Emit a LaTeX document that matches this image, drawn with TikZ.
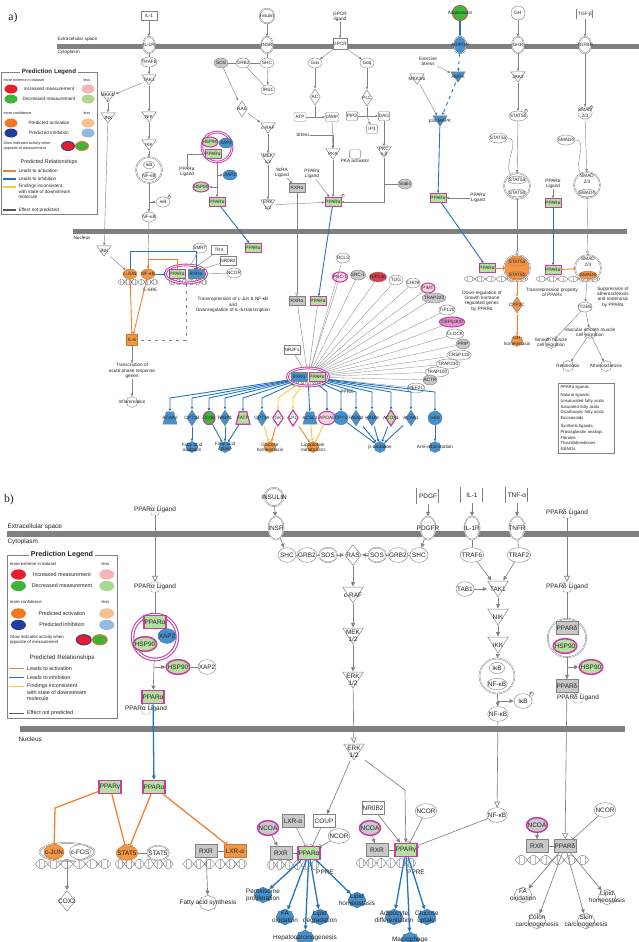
\documentclass[tikz,border=0pt]{standalone}
\usepackage{fontspec}
\setmainfont{Liberation Sans}
\newfontfamily\panelfont{Liberation Serif}
\usetikzlibrary{shapes.geometric,shapes.symbols,arrows.meta,calc}

\definecolor{linec}{RGB}{130,130,130}
\definecolor{txtc}{RGB}{35,35,35}
\definecolor{barc}{RGB}{128,128,128}
\definecolor{grn}{RGB}{182,224,160}
\definecolor{dgrn}{RGB}{60,185,60}
\definecolor{mag}{RGB}{200,60,165}
\definecolor{blu}{RGB}{70,145,205}
\definecolor{ora}{RGB}{242,150,70}
\definecolor{gry}{RGB}{200,200,200}
\definecolor{red1}{RGB}{225,60,80}
\definecolor{pnk}{RGB}{246,210,228}
\definecolor{arrblue}{RGB}{35,115,195}
\definecolor{arrora}{RGB}{242,128,45}
\definecolor{arryel}{RGB}{245,205,50}
\definecolor{navy}{RGB}{35,60,160}
\definecolor{lgred}{RGB}{232,30,40}
\definecolor{lgpink}{RGB}{246,180,185}
\definecolor{lggreen}{RGB}{60,180,60}
\definecolor{lglgreen}{RGB}{172,216,148}
\definecolor{lgorange}{RGB}{240,120,30}
\definecolor{lglorange}{RGB}{246,192,145}
\definecolor{lglblue}{RGB}{150,185,228}

% node and line sizes of the upper panel (the lower one resets them)
\def\molW{4.2mm}\def\molH{3mm}\def\molXs{-1.5pt}
\def\recW{3.6mm}\def\recH{5mm}\def\recXs{-4pt}
\def\boxW{4.8mm}\def\boxH{2.7mm}
\def\kinW{4.5mm}\def\kinH{3.3mm}
\def\diaW{3.4mm}\def\diaH{5mm}
\def\trpW{4.5mm}\def\trpH{4mm}
\def\fnW{3.6mm}\def\fnH{3.3mm}
\def\glowW{.9pt}\def\ppW{.7pt}
\def\lnW{.35pt}\def\lnB{.75pt}
\def\tipL{2.2pt}\def\tipW{2pt}\def\otipL{3pt}\def\otipW{3pt}\def\barW{3pt}
\def\phosFont{\fontsize{2.5}{2.5}\selectfont}

\tikzset{
  every node/.style={inner sep=.3pt, align=center, text=txtc},
  mol/.style={ellipse, draw=linec, line width=.35pt, fill=#1, minimum width=\molW,
    minimum height=\molH, inner xsep=\molXs, inner ysep=0pt},
  mol/.default=white,
  glow/.style={ellipse, draw=mag, line width=\glowW, fill=#1, minimum width=\molW,
    minimum height=\molH, inner xsep=\molXs, inner ysep=0pt},
  glow/.default=grn,
  rec/.style={ellipse, draw=linec, line width=.35pt, double=white, double distance=.4pt,
    fill=#1, minimum width=\recW, minimum height=\recH, inner xsep=\recXs, inner ysep=0pt},
  rec/.default=white,
  box/.style={rectangle, draw=linec, line width=.35pt, fill=#1, minimum width=\boxW,
    minimum height=\boxH, inner xsep=.4pt},
  box/.default=white,
  ppar/.style={rectangle, draw=mag, line width=\ppW, fill=#1, minimum width=\boxW,
    minimum height=\boxH, inner xsep=.4pt},
  ppar/.default=grn,
  cplx/.style={circle, draw=linec, line width=.35pt, double=white, double distance=.5pt,
    minimum size=#1, inner sep=0pt},
  kin/.style={rectangle, minimum width=\kinW, minimum height=\kinH, inner sep=0pt,
    path picture={\filldraw[draw=linec, line width=.4pt, fill=#1]
      ([shift={(-\kinW/2+.3pt,\kinH/2-.3pt)}]path picture bounding box.center) --
      ([shift={(\kinW/2-.3pt,\kinH/2-.3pt)}]path picture bounding box.center) --
      ([yshift=-\kinH/2+.3pt]path picture bounding box.center) -- cycle;}},
  kin/.default=white,
  diash/.style 2 args={rectangle, minimum width=\diaW, minimum height=\diaH, inner sep=0pt,
    path picture={\filldraw[#2, fill=#1]
      ([yshift=\diaH/2-.4pt]path picture bounding box.center) --
      ([xshift=\diaW/2-.4pt]path picture bounding box.center) --
      ([yshift=-\diaH/2+.4pt]path picture bounding box.center) --
      ([xshift=-\diaW/2+.4pt]path picture bounding box.center) -- cycle;}},
  dia/.style={diash={#1}{draw=linec, line width=.4pt}},
  dia/.default=white,
  diag/.style={diash={#1}{draw=mag, line width=1pt}},
  trpsh/.style 2 args={rectangle, minimum width=\trpW, minimum height=\trpH, inner sep=0pt,
    path picture={\filldraw[#2, fill=#1]
      ([shift={(-\trpW/4,\trpH/2-.4pt)}]path picture bounding box.center) --
      ([shift={(\trpW/4,\trpH/2-.4pt)}]path picture bounding box.center) --
      ([shift={(\trpW/2-.4pt,-\trpH/2+.4pt)}]path picture bounding box.center) --
      ([shift={(-\trpW/2+.4pt,-\trpH/2+.4pt)}]path picture bounding box.center) -- cycle;}},
  trp/.style={trpsh={#1}{draw=linec, line width=.4pt}},
  trpg/.style={trpsh={#1}{draw=mag, line width=1pt}},
  fn/.style={cloud, cloud puffs=8, cloud puff arc=120, aspect=1.1, draw=linec,
    line width=.35pt, fill=#1, minimum width=\fnW, minimum height=\fnH, inner sep=0pt},
  fn/.default=white,
  phos/.style={label={[circle, draw=linec, line width=.3pt, inner sep=.2pt,
    font=\phosFont]north east:P}},
  ligsq/.style={draw=linec, line width=.35pt, rounded corners=1pt, minimum width=2.4mm,
    minimum height=3mm, inner sep=0pt},
  lgdot/.style={ellipse, fill=#1, minimum width=3.9mm, minimum height=2.7mm, inner sep=0pt},
  % connectors
  ga/.style={draw=linec, line width=\lnW, -{Triangle[length=\tipL, width=\tipW]}},
  gn/.style={draw=linec, line width=\lnW},
  go/.style={draw=linec, line width=\lnW, -{Triangle[open, length=\otipL, width=\otipW]}},
  gb/.style={draw=linec, line width=\lnW, -{Bar[width=\barW]}},
  ba/.style={draw=arrblue, line width=\lnB, -{Triangle[length=\tipL, width=\tipW]}},
  bb/.style={draw=arrblue, line width=\lnB, -{Bar[width=\barW]}},
  oa/.style={draw=arrora, line width=\lnB, -{Triangle[length=\tipL, width=\tipW]}},
  ob/.style={draw=arrora, line width=\lnB, -{Bar[width=\barW]}},
  ol/.style={draw=arrora, line width=\lnB},
  ya/.style={draw=arryel, line width=\lnB, -{Triangle[length=\tipL, width=\tipW]}},
  dna/.pic={
    \foreach \k in {-18,-15,...,18}
      \draw[linec!55, line width=.25pt] (\k,{3*sin(\k*27)}) -- (\k,{-3*sin(\k*27)});
    \draw[linec, line width=.35pt, domain=-20:20, samples=41, smooth]
      plot (\x,{3*sin(\x*27)}) plot (\x,{-3*sin(\x*27)});
  }
}

% colour key, drawn in a 96 x 142 box
\newcommand\predlegend[1]{%
  \draw[linec, line width=.4pt] (0,0) rectangle (96,142);
  \node[fill=white, inner xsep=1.5pt, font=\bfseries\fontsize{5.3}{6}\selectfont] (#1ttl) at (48,0) {Prediction Legend};
  \node[anchor=west, font=\fontsize{3.2}{3.6}\selectfont] (#1ext) at (2,8) {more extreme in dataset};
  \node[font=\fontsize{3.2}{3.6}\selectfont] (#1lsa) at (86,8) {less};
  \node[lgdot=lgred] (#1red) at (10,17) {};
  \node[font=\fontsize{4}{4.5}\selectfont] (#1redt) at (48,17) {Increased measurement};
  \node[lgdot=lgpink] (#1pnk) at (87,17) {};
  \node[lgdot=lggreen] (#1grn) at (10,27) {};
  \node[font=\fontsize{4}{4.5}\selectfont] (#1grnt) at (48,27) {Decreased measurement};
  \node[lgdot=lglgreen] (#1lgn) at (87,27) {};
  \node[anchor=west, font=\fontsize{3.2}{3.6}\selectfont] (#1conf) at (2,41) {more confidence};
  \node[font=\fontsize{3.2}{3.6}\selectfont] (#1lsb) at (86,41) {less};
  \node[lgdot=lgorange] (#1ora) at (10,51) {};
  \node[font=\fontsize{4}{4.5}\selectfont] (#1orat) at (48,51) {Predicted activation};
  \node[lgdot=lglorange] (#1lor) at (87,51) {};
  \node[lgdot=navy] (#1blu) at (10,61) {};
  \node[font=\fontsize{4}{4.5}\selectfont] (#1blut) at (48,61) {Predicted inhibition};
  \node[lgdot=lglblue] (#1lbl) at (87,61) {};
  \node[anchor=west, align=left, font=\fontsize{3.2}{3.8}\selectfont] (#1glw) at (2,74) {Glow indicates activity when\\opposite of measurement};
  \node[lgdot=lgred, draw=navy, line width=.8pt] (#1gl1) at (67,74) {};
  \node[lgdot=lggreen, draw=lgorange, line width=.8pt] (#1gl2) at (81,74) {};
  \node[font=\fontsize{4.6}{5}\selectfont] (#1rel) at (48,90) {Predicted Relationships};
  \draw[arrora, line width=.9pt] (2,99) -- (15,99);
  \node[anchor=west, font=\fontsize{4}{4.5}\selectfont] (#1act) at (17,99) {Leads to activation};
  \draw[arrblue, line width=.9pt] (2,107) -- (15,107);
  \node[anchor=west, font=\fontsize{4}{4.5}\selectfont] (#1inh) at (17,107) {Leads to inhibition};
  \draw[arryel, line width=.9pt] (2,115) -- (15,115);
  \node[anchor=north west, align=left, font=\fontsize{4}{4.6}\selectfont] (#1fnd) at (17,112) {Findings inconsistent\\with state of downstream\\molecule};
  \draw[linec!70!black, line width=.9pt] (2,138) -- (15,138);
  \node[anchor=west, font=\fontsize{4}{4.5}\selectfont] (#1np) at (17,138) {Effect not predicted};
}

\begin{document}
\begin{tikzpicture}[x=0.3mm, y=-0.3mm]
\useasboundingbox (0,0) rectangle (639,942);
\fill[white] (0,0) rectangle (639,942);

%%%%%%%%%%%%%%%%%%%%%%%% panel a %%%%%%%%%%%%%%%%%%%%%%%%
\begin{scope}[every node/.append style={font=\fontsize{4}{4.5}\selectfont}]
\node[font=\panelfont\fontsize{10}{11}\selectfont] (tagA) at (13,18) {a)};
\fill[barc] (57,43.5) rectangle (639,48.5);
\fill[barc] (73,229) rectangle (627,233.5);
\node[anchor=south west] (ecsA) at (57,42.5) {Extracellular space};
\node[anchor=north west] (cytA) at (57,50) {Cytoplasm};
\node[anchor=north west] (nucA) at (73,236) {Nucleus};

% IL-1 / NF-kB
\node[box] (il1a) at (149,16) {IL-1};
\node[rec] (il1ra) at (149,45) {IL-1R};
\node[mol] (traf6a) at (149,62) {TRAF6};
\node[kin] (tak1a) at (149,80) {TAK1};
\node[kin] (mkk47a) at (108,97) {MKK4/\\7};
\node[kin] (jnka) at (108,118) {JNK};
\node[kin] (nika) at (149,117) {NIK};
\node[kin] (ikka) at (149,145) {IKK};
\node[cplx=7.8mm] (nfcA) at (149,170) {};
\node[mol, minimum width=3.4mm, minimum height=2.3mm] (ikbA1) at (149,165) {IκB};
\node[mol, minimum width=3.4mm, minimum height=2.3mm] (nfkA1) at (149,176) {NF-κB};
\node[mol, phos] (ikbA2) at (163,202) {IκB};
\node[mol] (nfkA2) at (149,217) {NF-κB};
\node[kin] (jnkA2) at (104,251) {JNK};
\pic at (138,282) {dna};
\pic[xscale=.95] at (188,282) {dna};
\node[mol=ora, draw=ora!80!black] (cjunA) at (130,274) {c-JUN};
\node[mol=ora, draw=ora!80!black] (nfkA3) at (148,274) {NF-κB};
\node (il6reA) at (150,290) {IL-6RE};
\node[ellipse, draw=mag, line width=.8pt, double=white, double distance=.7pt,
  minimum width=12.5mm, minimum height=5.4mm] (prA) at (186,274) {};
\node[ppar] (ppA1) at (177,274) {PPARα};
\node[box=blu] (rxA1) at (196,274) {RXRα};
\node[mol] (smrtA) at (200,248) {SMRT};
\node[box] (tr4A) at (219,250) {TR4};
\node[box] (nr0b2A) at (228,261) {NR0B2};
\node[mol] (ncorA) at (234,273) {NCOR};
\node (trtxA) at (233,305) {Transrepression of c-Jun \& NF-κB\\and\\Downregulation of IL-6 transcription};
\node[box=ora, draw=ora!80!black, minimum size=3.3mm] (il6A) at (132,340) {IL-6};
\node (acuteA) at (132,371) {Transcription of\\acute phase response\\genes};
\node[fn, label={center:Inflammation}] (inflA) at (132,402) {};

\draw[ga] (il1a) -- (il1ra);
\draw[gn] (il1ra) -- (traf6a);
\draw[ga] (traf6a) -- (tak1a);
\draw[ga] (tak1a) -- (mkk47a);
\draw[ga] (tak1a) -- (nika);
\draw[ga] (mkk47a) -- (jnka);
\draw[ga] (nika) -- (ikka);
\draw[ga] (ikka) -- (nfcA);
\draw[ga] (nfcA) -- (nfkA2);
\draw[ga] (nfcA.south |- ikbA2) -- (ikbA2);
\draw[ga] (nfkA2) -- (nfkA3);
\draw[ga] (jnka) -- (jnkA2);
\draw[ga] (jnkA2) -- (cjunA);
\draw[bb] (cjunA.north) -- ++(0,-17) -| (rxA1.north);
\draw[ol] (nfkA3.north) -- ++(0,-9) -| (ppA1.north);
\draw[bb] (nfkA3) -- (prA);
\draw[oa] (cjunA) -- (il6A);
\draw[oa] (nfkA3) -- (il6A);
\draw[gn, dashed] (prA.south) |- (il6A);
\draw[gn] (smrtA) -- (prA);
\draw[gn] (tr4A) -- (prA);
\draw[gn] (nr0b2A) -- (prA);
\draw[gn] (ncorA) -- (prA);
\draw[ga] (il6A) -- (acuteA);
\draw[ga] (acuteA) -- (inflA);

% insulin / MAPK
\node[circle, draw=linec, double=white, double distance=.4pt, minimum size=4.4mm,
  inner sep=0pt, label={center:Insulin}] (insA) at (267,16) {};
\node[rec] (insrA) at (267,45) {INSR};
\node[mol=gry] (sosA) at (221,63) {SOS};
\node[mol] (grbA) at (243,63) {GRB2};
\node[mol] (shcA) at (267,63) {SHC};
\node[mol] (irsA) at (268,90) {IRS1};
\node[dia] (rasA) at (242,109) {RAS};
\node[kin] (crafA) at (268,128) {c-RAF};
\node[kin] (mekA) at (268,159) {MEK\\1/2};
\node[kin] (erkA) at (268,205) {ERK\\1/2};

% PPARa / HSP90 / XAP2
\node[circle, draw=mag, line width=.8pt, double=white, double distance=.7pt,
  minimum size=9mm] (hcA) at (217,147) {};
\node[mol=blu, draw=blu!80!black] (xapA1) at (226,143) {XAP2};
\node[glow] (hspA1) at (210,142) {HSP90};
\node[ppar] (ppA2) at (213,154) {PPARα};
\node (ligA1) at (187,172) {PPARα\\Ligand};
\node[mol=blu, draw=blu!80!black] (xapA2) at (230,175) {XAP2};
\node[glow] (hspA2) at (201,187) {HSP90};
\node[ppar] (ppA3) at (217,202) {PPARα};
\node[ppar] (ppA4) at (253,248) {PPARα};

% RXR and GPCR branch
\node (ligA2) at (282,173) {9cRA\\Ligand};
\node[box=gry] (rxA2) at (297,188) {RXRα};
\node[box=gry] (rxA3) at (297,301) {RXRα};
\node (gpcrlA) at (340,17) {GPCR\\ligand};
\node[box, minimum width=3.4mm, minimum height=3.4mm] (gpcrA) at (340,44) {GPCR};
\node[mol] (gasA) at (315,63) {Gαs};
\node[mol] (gaqA) at (367,63) {Gαq};
\node[dia] (acA) at (315,97) {AC};
\node[box, rounded corners=1pt, minimum width=3.6mm] (atpA) at (300,117) {ATP};
\node[box, rounded corners=1pt, minimum width=3.6mm] (campA) at (332,117) {cAMP};
\node[dia] (plcA) at (367,98) {PLC};
\node[box, rounded corners=1pt, minimum width=3.4mm] (pip2A) at (352,116) {PIP2};
\node[box, rounded corners=1pt, minimum width=3.4mm] (dagA) at (384,116) {DAG};
\node[box, rounded corners=1pt, minimum width=3.2mm] (ip3A) at (372,129) {IP3};
\node (strA) at (303,135) {Stress};
\node[kin] (pkaA) at (333,154) {PKA};
\node[box, rounded corners=1pt, minimum width=3.2mm, label={below:PKA activator}] (pkactA) at (355,154) {};
\node[kin] (pkcA) at (384,152) {PKC\\α,β};
\node[mol=gry] (sodA) at (405,184) {Sodis};
\node (ligA3) at (312,174) {PPARα\\Ligand};
\node[ppar, phos] (ppA5) at (333,202) {PPARα};
\node[ppar] (ppA6) at (318,301) {PPARα};

\draw[ga] (insA) -- (insrA);
\draw[gn] (insrA) -- (shcA);
\draw[gn] (sosA) -- (grbA);
\draw[gn] (grbA) -- (shcA);
\draw[ga] (shcA) -- (irsA);
\draw[gn] (grbA) -- (irsA);
\draw[ga] (sosA) -- (rasA);
\draw[ga] (rasA) -- (crafA);
\draw[ga] (crafA) -- (mekA);
\draw[ga] (mekA) -- (erkA);
\draw[ga] (erkA) -- (ppA5);
\draw[ga] (ligA1) |- (ppA2);
\draw[ga] (hcA) -- (ppA3);
\draw[ga] (hcA.south |- xapA2) -- (xapA2);
\draw[ga] (hcA.south |- hspA2) -- (hspA2);
\draw[ba] (ppA3) -- (ppA4);
\draw[ga] (ligA2) -- (rxA2);
\draw[go] (rxA2) -- (rxA3);
\draw[ga] (gpcrlA) -- (gpcrA);
\draw[ga] (gpcrA) -- (gasA);
\draw[ga] (gpcrA) -- (gaqA);
\draw[ga] (gasA) -- (acA);
\draw[gn] (acA) -- (acA |- atpA);
\draw[ga] (atpA) -- (campA);
\draw[ga] (gaqA) -- (plcA);
\draw[gn] (plcA) -- (plcA |- pip2A);
\draw[ga] (pip2A) -- (dagA);
\draw[ga] (plcA |- pip2A) -- (ip3A);
\draw[ga] (campA) -- (pkaA);
\draw[ga] (strA) -| (pkaA);
\draw[ga] (dagA) -- (pkcA);
\draw[ga] (pkaA) -- (ppA5);
\draw[ga] (pkcA) |- (ppA5);
\draw[gb] (sodA) -- (pkcA |- sodA);
\draw[ga] (ligA3) -- (ppA5);
\draw[ba] (ppA5) -- (ppA6);

% adiponectin / AMPK
\node[circle, draw=red1, line width=.6pt, fill=dgrn, minimum size=4.6mm, inner sep=0pt,
  label={center:Adiponectin}] (adipA) at (460,13) {};
\node[rec=blu, draw=blu!70!black] (adiprA) at (460,45) {ADIPOR};
\node (exA) at (428,61) {Exercise\\Stress};
\node[kin=blu] (ampkA) at (458,77) {AMPK};
\node[kin] (mkk36A) at (417,79) {MKK3/6};
\node[kin=blu] (p38A) at (440,121) {p38 MAPK};
\node[ppar] (ppA7) at (438,198) {PPARα};
\node (ligA4) at (478,198) {PPARα\\Ligand};
\node[ppar] (ppA8) at (487,268) {PPARα};
\draw[ba, line width=1pt] (adipA) -- (adiprA);
\draw[ba, dashed] (adiprA) -- (ampkA);
\draw[ga] (exA) -- (ampkA);
\draw[ba, dashed] (ampkA) -- (p38A);
\draw[ga] (mkk36A) -- (p38A);
\draw[ba] (p38A) -- (ppA7);
\draw[ga] (ligA4) -- (ppA7);
\draw[ba] (ppA7) -- (ppA8);

% GH / STAT5
\node[circle, draw=linec, line width=.35pt, minimum size=4.2mm, inner sep=0pt] (ghA) at (518,13) {GH};
\node[rec] (ghrA) at (518,45) {GHR};
\node[kin] (jak2A) at (518,77) {JAK2};
\node[mol, phos] (s5bA) at (518,116) {STAT5b};
\node[mol] (s5aA) at (498,138) {STAT5a};
\node[cplx=7.8mm] (stcA) at (517,186) {};
\node[mol, minimum height=2.3mm] (stcA1) at (517,180) {STAT5a};
\node[mol, minimum height=2.3mm] (stcA2) at (517,193) {STAT5b};
\pic[xscale=1.6] at (496,279) {dna};
\pic[xscale=1.6] at (568,279) {dna};
\node[cplx=7.8mm, fill=ora] (stnA) at (517,268) {};
\node[mol=ora, draw=ora!80!black, minimum height=2.3mm] (stnA1) at (517,262) {STAT5a};
\node[mol=ora, draw=ora!80!black, minimum height=2.3mm] (stnA2) at (517,275) {STAT5b};
\node[dia=ora] (cypA) at (517,305) {CYP2C};
\node[fn=ora, draw=ora!80!black, label={center:{GH\\homeostasis}}] (ghhA) at (517,341) {};
\node (dregA) at (482,301) {Down-regulation of\\Growth hormone\\regulated genes\\by PPARα};
\draw[ga] (ghA) -- (ghrA);
\draw[ga] (ghrA) -- (jak2A);
\draw[ga] (jak2A) -- (s5bA);
\draw[ga] (s5bA) -- (stcA);
\draw[gn] (s5aA) to[out=0, in=120] (stcA);
\draw[go] (stcA) -- (stnA);
\draw[ob] (ppA8) -- (stnA);
\draw[oa] (stnA) -- (cypA);
\draw[oa] (cypA) -- (ghhA);

% TGF-beta / SMAD
\node[box, double=white, double distance=.4pt] (tgfA) at (585,14) {TGF-β};
\node[rec] (tgfrA) at (585,45) {TGFBR};
\node[mol, phos] (sm23A) at (585,113) {SMAD\\2/3};
\node[mol] (sm4A) at (566,140) {SMAD4};
\node[cplx=7.8mm] (smcA) at (587,185) {};
\node (smcA1) at (587,179) {SMAD\\2/3};
\node[mol, minimum height=2.3mm] (smcA2) at (587,193) {SMAD4};
\node (ligA5) at (553,184) {PPARα\\Ligand};
\node[ppar] (ppA9) at (553,203) {PPARα};
\node[ppar] (ppA10) at (553,270) {PPARα};
\node[cplx=7.8mm] (smnA) at (588,268) {};
\node (smnA1) at (588,262) {SMAD\\2/3};
\node[mol=ora, draw=ora!80!black, minimum height=2.3mm] (smnA2) at (588,275) {SMAD4};
\node (trpA) at (552,292) {Transrepression property\\of PPARs};
\node (supA) at (613,297) {Suppression of\\atherosclerosis\\and restenosis\\by PPARα};
\node[mol] (itgA) at (585,307) {ITGB5};
\node[fn, label={center:{Vascular smooth muscle\\cell migration}}] (vsmA) at (590,333) {};
\node[fn, label={center:{Smooth muscle\\cell migration}}] (smmA) at (551,343) {};
\node[fn, label={center:Restenosis}] (resA) at (568,366) {};
\node[fn, label={center:Atherosclerosis}] (athA) at (606,366) {};
\draw[ga] (tgfA) -- (tgfrA);
\draw[ga] (tgfrA) -- (sm23A);
\draw[ga] (sm23A) -- (smcA);
\draw[gn] (sm4A) to[out=0, in=120] (smcA);
\draw[go] (smcA) -- (smnA);
\draw[ga] (ligA5) -- (ppA9);
\draw[ba] (ppA9) -- (ppA10);
\draw[ob] (ppA10) -- (smnA);
\draw[ga] (smnA) -- (itgA);
\draw[ga] (itgA) -- (vsmA);
\draw[ga] (itgA) -- (smmA);
\draw[ga] (vsmA) -- (resA);
\draw[ga] (vsmA) -- (athA);

% RXR / PPARa heterodimer with its co-regulators and targets
\pic[xscale=.8] at (308,384) {dna};
\node[ellipse, draw=mag, line width=.8pt, double=white, double distance=.7pt,
  minimum width=12.5mm, minimum height=5.4mm] (cpxA) at (308,377) {};
\node[box=blu] (rxA4) at (299,377) {RXRα};
\node[ppar] (ppA11) at (317,377) {PPARα};
\node[box] (nr2f1A) at (292,350) {NR2F1};
\node (ppreA) at (347,392) {PPRE};

\node[mol] (bcl3A) at (343,258) {BCL3};
\node[glow=pnk] (pgc1A) at (340,277) {PGC-1};
\node[mol=gry] (src1A) at (358,275) {SRC-1};
\node[mol=red1] (rip140A) at (378,277) {RIP140};
\node[mol] (togA) at (396,280) {TOG};
\node[mol] (chd9A) at (413,283) {CHD9};
\node[glow=pnk] (pimtA) at (428,288) {PIMT};
\node[mol=gry] (trap220A) at (434,298) {TRAP220};
\node[mol] (tip120A) at (447,310) {TIP120};
\node[glow=mag!55] (cbpA) at (452,322) {CBP/p300};
\node[mol] (clockA) at (455,334) {CLOCK};
\node[mol=gry] (pripA) at (463,344) {PRIP};
\node[mol] (crspA) at (459,355) {CRSP130};
\node[mol] (trap230A) at (448,364) {TRAP230};
\node[mol] (trap100A) at (437,372) {TRAP100};
\node[mol=gry] (actrA) at (430,380) {ACTR};
\node[mol] (mef2cA) at (416,388) {MEF2C};
\foreach \cf in {bcl3A,pgc1A,src1A,rip140A,togA,chd9A,pimtA,trap220A,tip120A,cbpA,
  clockA,pripA,crspA,trap230A,trap100A,actrA,mef2cA}
  \draw[gn, line width=.25pt] (\cf) -- (cpxA);
\draw[gn] (nr2f1A) -- (cpxA);
\draw[gn] (rxA3) -- (cpxA);
\draw[gn] (ppA6) -- (cpxA);

\node[trp=blu] (tgA1) at (170,418) {ACAA2};
\node[dia=blu] (tgA2) at (192,418) {CPT1B};
\node[glow=dgrn, minimum width=3mm, minimum height=4mm] (tgA3) at (209,418) {CD36};
\node[dia=blu] (tgA4) at (225,418) {FABP1};
\node[trpg=grn] (tgA5) at (243,418) {FATP};
\node[dia=blu] (tgA6) at (262,418) {CPT1A};
\node[diag=white] (tgA7) at (278,418) {GK};
\node[diag=white] (tgA8) at (293,418) {LPL};
\node[trp=blu] (tgA9) at (310,418) {ACSL1};
\node[glow=pnk, minimum height=4mm] (tgA10) at (327,418) {APOA5};
\node[mol=blu, draw=blu!80!black, minimum height=4mm] (tgA11) at (341,418) {CPT2};
\node[dia=blu] (tgA12) at (356,418) {FADS2};
\node[dia=blu] (tgA13) at (372,418) {HADH};
\node[diag=grn] (tgA14) at (391,418) {ACOX1};
\node[dia=blu] (tgA15) at (411,418) {ACAA1};
\node[mol=blu, draw=blu!80!black, minimum height=4mm] (tgA16) at (435,418) {IκBα};

\node[fn=blu, draw=blu!80!black, label={center:{Fatty acid\\oxidation}}] (fnA1) at (192,447) {};
\node[fn=blu, draw=blu!80!black, label={center:{Fatty acid\\uptake}}] (fnA2) at (225,447) {};
\node[fn=ora, draw=ora!80!black, label={center:{Glucose\\homeostasis}}] (fnA3) at (270,447) {};
\node[fn=ora, draw=ora!80!black, label={center:{Lipoprotein\\metabolism}}] (fnA4) at (313,447) {};
\node[fn=blu, draw=blu!80!black, label={center:β-oxidation}] (fnA5) at (380,447) {};
\node[fn=blu, draw=blu!80!black, label={center:Anti-inflammation}] (fnA6) at (435,447) {};

\coordinate (kLA) at (0,398);
\coordinate (kRA) at (0,392);
\foreach \tg in {tgA1,tgA2,tgA3,tgA4,tgA5,tgA6}
  \draw[ba] (cpxA) -- (\tg |- kLA) -- (\tg);
\foreach \tg in {tgA7,tgA8}
  \draw[ya] (cpxA) -- (\tg |- kLA) -- (\tg);
\draw[ba] (cpxA) -- (tgA9);
\foreach \tg in {tgA10,tgA11,tgA12,tgA13,tgA14,tgA15,tgA16}
  \draw[ba] (cpxA) -- (\tg |- kRA) -- (\tg);
\draw[ba] (tgA2) -- (fnA1);
\foreach \tg in {tgA3,tgA4,tgA5} \draw[ba] (\tg) -- (fnA2);
\draw[ya] (tgA6) -- (fnA3);
\draw[oa] (tgA7) -- (fnA3);
\draw[oa] (tgA8) -- (fnA4);
\draw[ya] (tgA9) -- (fnA4);
\draw[ya] (tgA10) -- (fnA4);
\foreach \tg in {tgA11,tgA12,tgA13,tgA14,tgA15} \draw[ba] (\tg) -- (fnA5);
\draw[ba] (tgA16) -- (fnA6);

\node[draw=linec, line width=.4pt, anchor=north west, align=left, inner sep=2pt,
  text width=15.5mm, font=\fontsize{3.6}{4.9}\selectfont] (ligbxA) at (558,383)
  {PPARα ligands\\[2pt]Natural ligands:\\Unsaturated fatty acids\\Saturated fatty acids\\
   Dicarboxylic fatty acids\\Eicosanoids\\[2pt]Synthetic ligands:\\Prostaglandin analogs\\
   Fibrates\\Thiazolidinediones\\NSAIDs\\[3pt]};
\end{scope}

\begin{scope}[shift={(1,72)}]
\predlegend{la}
\end{scope}

%%%%%%%%%%%%%%%%%%%%%%%% panel b %%%%%%%%%%%%%%%%%%%%%%%%
\begin{scope}[every node/.append style={font=\fontsize{5.5}{6.2}\selectfont}]
\def\molW{5.4mm}\def\molH{4.4mm}\def\molXs{-1.6pt}
\def\recW{4.6mm}\def\recH{7mm}\def\recXs{-5pt}
\def\boxW{6.6mm}\def\boxH{4mm}
\def\kinW{6.4mm}\def\kinH{5mm}
\def\diaW{5.2mm}\def\diaH{6.4mm}
\def\fnW{5.4mm}\def\fnH{4.8mm}
\def\glowW{1.3pt}\def\ppW{1pt}
\def\lnW{.55pt}\def\lnB{1.1pt}
\def\tipL{3.6pt}\def\tipW{3.2pt}\def\otipL{5pt}\def\otipW{5pt}\def\barW{4.5pt}
\def\phosFont{\fontsize{3.5}{3.5}\selectfont}

\node[font=\panelfont\fontsize{10}{11}\selectfont] (tagB) at (9,500) {b)};
\fill[barc] (7,531) rectangle (639,537);
\fill[barc] (20,726) rectangle (625,732);
\node[anchor=south west] (ecsB) at (7,530) {Extracellular space};
\node[anchor=north west] (cytB) at (7,538.5) {Cytoplasm};
\node[anchor=north west] (nucB) at (18,736) {Nucleus};

% PPARa ligand route
\node[ligsq] (ligB1) at (155,510) {};
\node (ligB1t) at (155,510) {PPARα Ligand};
\node[ligsq] (ligB2) at (155,587) {};
\node (ligB2t) at (155,587) {PPARα Ligand};
\node[circle, draw=mag, line width=.9pt, double=white, double distance=1.2pt,
  minimum size=13.5mm] (hcB) at (155,637) {};
\node[mol=blu, draw=blu!80!black] (xapB1) at (167,636) {XAP2};
\node[glow] (hspB1) at (145,644) {HSP90};
\node[ppar] (ppB1) at (155,622) {PPARα};
\node[glow] (hspB2) at (178,667) {HSP90};
\node[mol] (xapB2) at (207,667) {XAP2};
\node[ppar] (ppB2) at (153,697) {PPARα};
\node[ligsq] (ligB3) at (146,709) {};
\node (ligB3t) at (146,709) {PPARα Ligand};
\node[ppar] (ppB3) at (154,787) {PPARα};
\node[ppar] (pgB1) at (110,787) {PPARγ};

\pic[xscale=1.9, yscale=1.6] at (73,864) {dna};
\pic[xscale=1.45, yscale=1.6] at (144,864) {dna};
\pic[xscale=1.6, yscale=1.6] at (215,864) {dna};
\node[ellipse, draw=linec, line width=.4pt, double=white, double distance=.5pt,
  minimum width=16.5mm, minimum height=5.4mm] (fosB) at (67,852) {};
\node[mol=ora, draw=ora!80!black] (cjunB) at (54,852) {c-JUN};
\node[mol] (cfosB) at (80,852) {c-FOS};
\node[mol=ora, draw=ora!80!black] (st5B1) at (127,853) {STAT5};
\node[mol, double=white, double distance=.4pt] (st5B2) at (158,853) {STAT5};
\node[box=gry] (rxrB1) at (206,851) {RXR};
\node[box=ora, draw=ora!80!black] (lxrB1) at (235,851) {LXR-α};
\node[dia] (cox2B) at (67,901) {COX2};
\node[fn, label={center:Fatty acid synthesis}] (fasB) at (208,903) {};
\coordinate (kjB) at (55,808);

\draw[go] (ligB1) -- (ligB2);
\draw[gn] (ligB2) -- (hcB);
\draw[ga] (hcB) -- (ppB2);
\draw[ga] (hcB.south |- hspB2) -- (hspB2);
\draw[gn] (hspB2) -- (xapB2);
\draw[ba] (ppB2) -- (ppB3);
\draw[ob] (pgB1) -- (kjB) -- (cjunB);
\draw[ob] (pgB1) -- (st5B1);
\draw[ob] (ppB3) -- (st5B1);
\draw[ob] (ppB3) -- (lxrB1);
\draw[gn] (st5B1) -- (st5B2);
\draw[gn] (rxrB1) -- (lxrB1);
\draw[ga] (fosB) -- (cox2B);
\draw[ga] (rxrB1) -- (fasB);

% growth factor and cytokine receptors
\node[circle, draw=linec, double=white, double distance=.5pt, minimum size=5.5mm,
  inner sep=0pt, label={center:INSULIN}] (insB) at (274,497) {};
\node[rec] (insrB) at (276,528) {INSR};
\node[mol] (shcB1) at (287,555) {SHC};
\node[mol] (grbB1) at (307,555) {GRB2};
\node[mol, double=white, double distance=.4pt] (sosB1) at (328,555) {SOS};
\node[dia] (rasB) at (353,555) {RAS};
\node[mol, double=white, double distance=.4pt] (sosB2) at (377,555) {SOS};
\node[mol] (grbB2) at (398,555) {GRB2};
\node[mol] (shcB2) at (419,555) {SHC};
\node[box, double=white, double distance=.4pt, minimum height=4.6mm] (pdgfB) at (428,496) {PDGF};
\node[rec] (pdgfrB) at (428,528) {PDGFR};
\node[box, double=white, double distance=.4pt, minimum height=4.6mm] (il1B) at (472,495) {IL-1};
\node[rec] (il1rB) at (472,528) {IL-1R};
\node[box, double=white, double distance=.4pt, minimum height=4.6mm] (tnfB) at (517,495) {TNF-α};
\node[rec] (tnfrB) at (517,528) {TNFR};
\node[mol] (traf6B) at (472,555) {TRAF6};
\node[mol] (traf2B) at (519,555) {TRAF2};
\node[mol] (tab1B) at (465,589) {TAB1};
\node[kin] (tak1B) at (498,589) {TAK1};
\node[kin] (nikB) at (498,617) {NIK};
\node[kin] (ikkB) at (498,645) {IKK};
\node[cplx=10.5mm] (nfcB) at (497,676) {};
\node[mol, minimum width=4.6mm, minimum height=3.4mm] (ikbB1) at (497,668) {IκB};
\node[mol, minimum width=5mm, minimum height=3.4mm] (nfkB1) at (497,684) {NF-κB};
\node[mol, phos] (ikbB2) at (523,701) {IκB};
\node[mol] (nfkB2) at (498,714) {NF-κB};
\node[mol] (nfkB3) at (497,815) {NF-κB};
\node[kin] (crafB) at (353,595) {c-RAF};
\node[kin] (mekB) at (353,636) {MEK\\1/2};
\node[kin] (erkB1) at (353,680) {ERK\\1/2};
\node[kin] (erkB2) at (354,752) {ERK\\1/2};

\draw[ga] (insB) -- (insrB);
\draw[ga] (insrB) -- (shcB1);
\draw[gn] (shcB1) -- (grbB1);
\draw[gn] (grbB1) -- (sosB1);
\draw[ga] (sosB1) -- (rasB);
\draw[ga] (sosB2) -- (rasB);
\draw[gn] (sosB2) -- (grbB2);
\draw[gn] (grbB2) -- (shcB2);
\draw[ga] (pdgfB) -- (pdgfrB);
\draw[ga] (pdgfrB) -- (shcB2);
\draw[ga] (rasB) -- (crafB);
\draw[ga] (crafB) -- (mekB);
\draw[ga] (mekB) -- (erkB1);
\draw[go] (erkB1) -- (erkB2);
\draw[ga] (il1B) -- (il1rB);
\draw[gn] (il1rB) -- (traf6B);
\draw[ga] (tnfB) -- (tnfrB);
\draw[gn] (tnfrB) -- (traf2B);
\draw[ga] (traf6B) -- (tak1B);
\draw[ga] (traf2B) -- (tak1B);
\draw[ga] (tab1B) -- (tak1B);
\draw[ga] (tak1B) -- (nikB);
\draw[ga] (nikB) -- (ikkB);
\draw[ga] (ikkB) -- (nfcB);
\draw[ga] (nfcB) -- (nfkB2);
\draw[ga] (nfcB.south |- ikbB2) -- (ikbB2);
\draw[go] (nfkB2) -- (nfkB3);

% PPARd route
\node[ligsq] (ligD1) at (567,513) {};
\node (ligD1t) at (567,513) {PPARδ Ligand};
\node[ligsq] (ligD2) at (567,587) {};
\node (ligD2t) at (567,587) {PPARδ Ligand};
\node[cplx=11.5mm] (dcB) at (567,638) {};
\node[box=gry] (pdB1) at (567,628) {PPARδ};
\node[glow] (hspD1) at (565,646) {HSP90};
\node[glow] (hspD2) at (591,667) {HSP90};
\node[box=gry] (pdB2) at (567,686) {PPARδ};
\node[ligsq] (ligD3) at (578,698) {};
\node (ligD3t) at (578,698) {PPARδ Ligand};
\pic[xscale=1.85, yscale=1.6] at (552,860) {dna};
\node[glow=gry] (ncoaD) at (537,825) {NCOA};
\node[box=gry] (rxrD) at (537,846) {RXR};
\node[box=gry] (pdB3) at (565,846) {PPARδ};
\node[mol] (ncorD) at (605,810) {NCOR};
\node[fn, label={center:{FA\\oxidation}}] (faoxD) at (523,895) {};
\node[fn, label={center:{Colon\\carcinogenesis}}] (colD) at (537,921) {};
\node[fn, label={center:{Skin\\carcinogenesis}}] (skinD) at (586,921) {};
\node[fn, label={center:{Lipid\\homeostasis}}] (lipD) at (607,897) {};
\draw[go] (ligD1) -- (ligD2);
\draw[gn] (ligD2) -- (dcB);
\draw[ga] (dcB) -- (pdB2);
\draw[ga] (dcB.south |- hspD2) -- (hspD2);
\draw[go] (pdB2) -- (pdB3);
\draw[ga] (ncoaD) -- (rxrD);
\draw[gn] (rxrD) -- (pdB3);
\draw[gb] (ncorD) -- (pdB3);
\foreach \tg in {faoxD,colD,skinD,lipD} \draw[ga] (pdB3) -- (\tg);

% RXR / PPARa and RXR / PPARg on the PPRE
\pic[xscale=1.3, yscale=1.6] at (293,865) {dna};
\pic[xscale=1.5, yscale=1.6] at (386,863) {dna};
\node[box=gry] (lxrM) at (293,821) {LXR-α};
\node[box] (coupM) at (324,821) {COUP};
\node[glow=gry] (ncoaM) at (268,828) {NCOA};
\node[mol] (ncorM) at (339,836) {NCOR};
\node[box=gry] (rxrM) at (281,853) {RXR};
\node[ppar] (ppM) at (309,853) {PPARα};
\node (ppreM) at (325,872) {PPRE};
\node[box] (nr0b2M) at (373,808) {NR0B2};
\node[glow=gry] (ncoaG) at (370,828) {NCOA};
\node[mol] (ncorG) at (426,811) {NCOR};
\node[box=gry] (rxrG) at (377,850) {RXR};
\node[ppar] (pgM) at (406,850) {PPARγ};
\node (ppreG) at (416,872) {PPRE};
\coordinate (kgB) at (405,790);

\node[fn=blu, draw=blu!80!black, label={center:{Peroxisome\\proliferation}}] (peroxB) at (263,895) {};
\node[fn=blu, draw=blu!80!black, label={center:{FA\\oxidation}}] (faoxB) at (285,917) {};
\node[fn=blu, draw=blu!80!black, label={center:{Lipid\\degradation}}] (lipdgB) at (320,917) {};
\node[fn=blu, draw=blu!80!black, label={center:{Lipid\\homeostasis}}] (lipB) at (357,900) {};
\node[fn=blu, draw=blu!80!black, label={center:Hepatocarcinogenesis}] (hepB) at (305,938) {};
\node[fn=blu, draw=blu!80!black, label={center:{Adipocyte\\differentiation}}] (adipB) at (394,917) {};
\node[fn=blu, draw=blu!80!black, label={center:{Glucose\\uptake}}] (glcB) at (427,917) {};
\node[fn=blu, draw=blu!80!black, label={center:Macrophage}] (macB) at (410,940) {};

\draw[ga] (erkB2) -- (coupM);
\draw[ga] (erkB2) -- (kgB) -- (pgM);
\draw[gb] (nfkB3) -- (pgM);
\draw[ga] (ncoaM) -- (rxrM);
\draw[gb] (lxrM) -- (ppM);
\draw[gb] (coupM) -- (ppM);
\draw[gb] (ncorM) -- (ppM);
\draw[gn] (rxrM) -- (ppM);
\draw[ga] (nr0b2M) -- (pgM);
\draw[ga] (ncoaG) -- (rxrG);
\draw[gb] (ncorG) -- (pgM);
\draw[gn] (rxrG) -- (pgM);
\foreach \tg in {peroxB,faoxB,lipdgB,lipB,hepB} \draw[ba] (ppM) -- (\tg);
\foreach \tg in {adipB,glcB,macB} \draw[ba] (pgM) -- (\tg);
\end{scope}

\begin{scope}[shift={(7,555)}, scale=1.146, transform shape]
\predlegend{lb}
\end{scope}
\end{tikzpicture}
\end{document}
